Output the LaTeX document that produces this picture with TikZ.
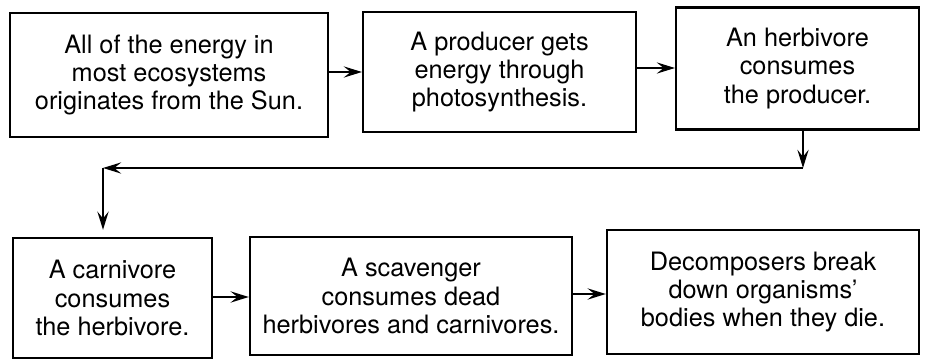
\documentclass[tikz,border=0pt]{standalone}
\usepackage{fontspec}
\setmainfont{TeX Gyre Heros}
\usetikzlibrary{arrows.meta}
\begin{document}
\begin{tikzpicture}[x=0.025cm, y=-0.025cm,
    stagebox/.style={draw, line width=1.6pt, align=center, inner sep=2pt,
      font=\fontsize{18}{20}\selectfont},
    flow/.style={line width=1.5pt, -{Stealth[length=13pt, width=8pt, inset=5pt]}}]
    \useasboundingbox (0, 0) rectangle (928, 360);
    \node [stagebox, minimum width=7.95cm, minimum height=3.1cm] (sun) at (169, 75)
      {All of the energy in\\most ecosystems\\originates from the Sun.};
    \node [stagebox, minimum width=6.82cm, minimum height=3.0cm] (producer) at (499.5, 72)
      {A producer gets\\energy through\\photosynthesis.};
    \node [stagebox, minimum width=6.07cm, minimum height=3.05cm] (herbivore) at (797.5, 68.5)
      {An herbivore\\consumes\\the producer.};
    \node [stagebox, minimum width=4.97cm, minimum height=3.0cm] (carnivore) at (112.5, 298)
      {A carnivore\\consumes\\the herbivore.};
    \node [stagebox, minimum width=8.05cm, minimum height=2.95cm] (scavenger) at (411, 296)
      {A scavenger\\consumes dead\\herbivores and carnivores.};
    \node [stagebox, minimum width=7.8cm, minimum height=3.1cm] (decomposer) at (763, 292)
      {Decomposers break\\down organisms'\\bodies when they die.};
    \coordinate (turnright) at (803, 168);
    \coordinate (turnleft) at (103, 168);
    \draw [flow] (sun.east |- producer.west) -- (producer.west);
    \draw [flow] (producer.east |- 0, 68) -- (herbivore.west |- 0, 68);
    \draw [flow] (turnright |- herbivore.south) -- (turnright);
    \draw [flow] (turnright) -- (turnleft);
    \draw [flow, shorten >=5pt] (turnleft) -- (turnleft |- carnivore.north);
    \draw [flow] (carnivore.east |- 0, 297) -- (scavenger.west |- 0, 297);
    \draw [flow] (scavenger.east |- 0, 294) -- (decomposer.west |- 0, 294);
  \end{tikzpicture}
\end{document}
